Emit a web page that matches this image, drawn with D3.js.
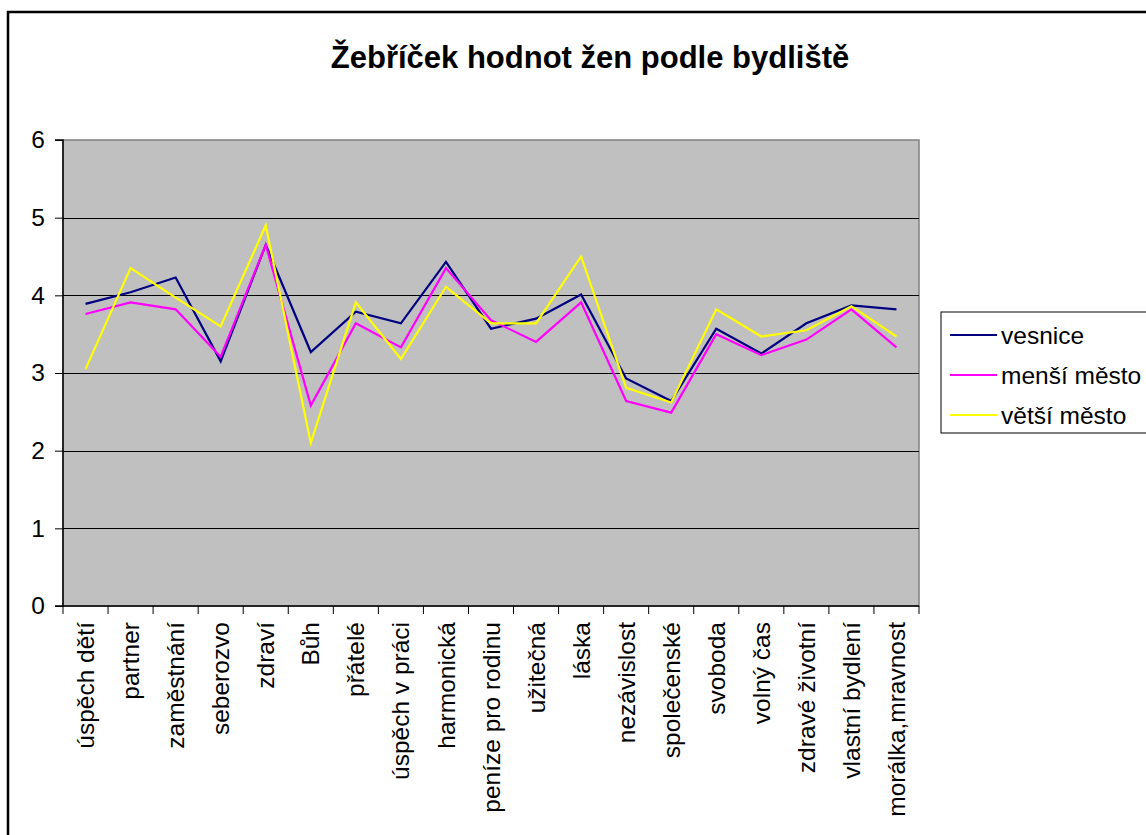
<!DOCTYPE html>
<html>
<head>
<meta charset="utf-8">
<script src="https://cdn.jsdelivr.net/npm/d3@7"></script>
<style>
  html, body { margin: 0; padding: 0; background: #fff; }
  svg { display: block; font-family: Arial, "Liberation Sans", sans-serif; }
</style>
</head>
<body>
<svg id="chart" width="1146" height="835"></svg>
<script>
const categories = ["úspěch dětí","partner","zaměstnání","seberozvo","zdraví","Bůh","přátelé","úspěch v práci","harmonická","peníze pro rodinu","užitečná","láska","nezávislost","společenské","svoboda","volný čas","zdravé životní","vlastní bydlení","morálka,mravnost"];
const vesnice = [3.89,4.04,4.23,3.15,4.65,3.27,3.79,3.64,4.43,3.57,3.70,4.01,2.93,2.64,3.57,3.25,3.64,3.87,3.82];
const mensiMesto = [3.76,3.91,3.82,3.21,4.65,2.58,3.64,3.33,4.35,3.68,3.40,3.91,2.64,2.49,3.50,3.23,3.43,3.82,3.33];
const vetsiMesto = [3.05,4.35,3.97,3.60,4.90,2.10,3.91,3.18,4.11,3.64,3.64,4.50,2.81,2.62,3.82,3.47,3.55,3.86,3.47];
const seriesNames = ["vesnice","menší město","větší město"];
const seriesColors = ["#000080","#FF00FF","#FFFF00"];
const yTicks = [0,1,2,3,4,5,6];
const title = "Žebříček hodnot žen podle bydliště";

(function () {
const series = [vesnice, mensiMesto, vetsiMesto];
const svg = d3.select("#chart");
const fs = 24.5;

// outer chart border
svg.append("rect").attr("x", 8).attr("y", 12).attr("width", 1170).attr("height", 900)
  .attr("fill", "#fff").attr("stroke", "#000").attr("stroke-width", 2.5);

const pL = 63, pR = 919, pT = 140, pB = 606;
const x = d3.scaleBand().domain(categories).range([pL, pR]).padding(0);
const y = d3.scaleLinear().domain([0, 6]).range([pB, pT]);

// plot area
svg.append("rect").attr("x", pL).attr("y", pT).attr("width", pR - pL).attr("height", pB - pT)
  .attr("fill", "#C0C0C0").attr("stroke", "#808080").attr("stroke-width", 1.5);

// gridlines
svg.append("g").selectAll("line").data(yTicks.filter(t => t > 0 && t < 6)).join("line")
  .attr("x1", pL).attr("x2", pR)
  .attr("y1", d => Math.round(y(d)) + 0.5).attr("y2", d => Math.round(y(d)) + 0.5)
  .attr("stroke", "#000").attr("stroke-width", 1);

// y axis
const yAxis = d3.axisLeft(y).tickValues(yTicks).tickSize(8).tickPadding(10).tickFormat(d3.format("d"));
const gy = svg.append("g").attr("transform", `translate(${pL},0)`).call(yAxis);
gy.select(".domain").attr("stroke", "#000").attr("stroke-width", 1.5).attr("d", `M-8,${pT}H0V${pB}H-8`);
gy.selectAll(".tick line").attr("stroke", "#000");
gy.selectAll(".tick text").attr("font-size", fs).attr("fill", "#000")
  .attr("font-family", "Arial, 'Liberation Sans', sans-serif");

// x axis: ticks between categories
const boundaries = categories.map(c => x(c)).concat([pR]);
svg.append("line").attr("x1", pL).attr("x2", pR).attr("y1", pB).attr("y2", pB)
  .attr("stroke", "#000").attr("stroke-width", 1.5);
svg.append("g").selectAll("line").data(boundaries).join("line")
  .attr("x1", d => d).attr("x2", d => d).attr("y1", pB).attr("y2", pB + 8)
  .attr("stroke", "#000").attr("stroke-width", 1);

svg.append("g").selectAll("text").data(categories).join("text")
  .attr("transform", d => `translate(${x(d) + x.bandwidth() / 2},622) rotate(-90)`)
  .attr("text-anchor", "end").attr("dy", "0.35em")
  .attr("font-size", fs).attr("fill", "#000")
  .text(d => d);

// lines
const line = d3.line().x((d, i) => x(categories[i]) + x.bandwidth() / 2).y(d => y(d));
svg.append("g").selectAll("path").data(series).join("path")
  .attr("d", d => line(d)).attr("fill", "none")
  .attr("stroke", (d, i) => seriesColors[i]).attr("stroke-width", 2.2)
  .attr("stroke-linejoin", "miter");

// title
svg.append("text").attr("x", 590).attr("y", 68).attr("text-anchor", "middle")
  .attr("font-size", 31).attr("font-weight", "bold").attr("fill", "#000").text(title);

// legend
const lg = svg.append("g");
lg.append("rect").attr("x", 941).attr("y", 312).attr("width", 230).attr("height", 121)
  .attr("fill", "#fff").attr("stroke", "#000").attr("stroke-width", 1);
seriesNames.forEach((n, i) => {
  const yy = 335 + i * 40;
  lg.append("line").attr("x1", 950).attr("x2", 997).attr("y1", yy).attr("y2", yy)
    .attr("stroke", seriesColors[i]).attr("stroke-width", 2);
  lg.append("text").attr("x", 1001).attr("y", yy).attr("dy", "0.35em")
    .attr("font-size", fs).attr("fill", "#000").text(n);
});
})();
</script>
</body>
</html>
